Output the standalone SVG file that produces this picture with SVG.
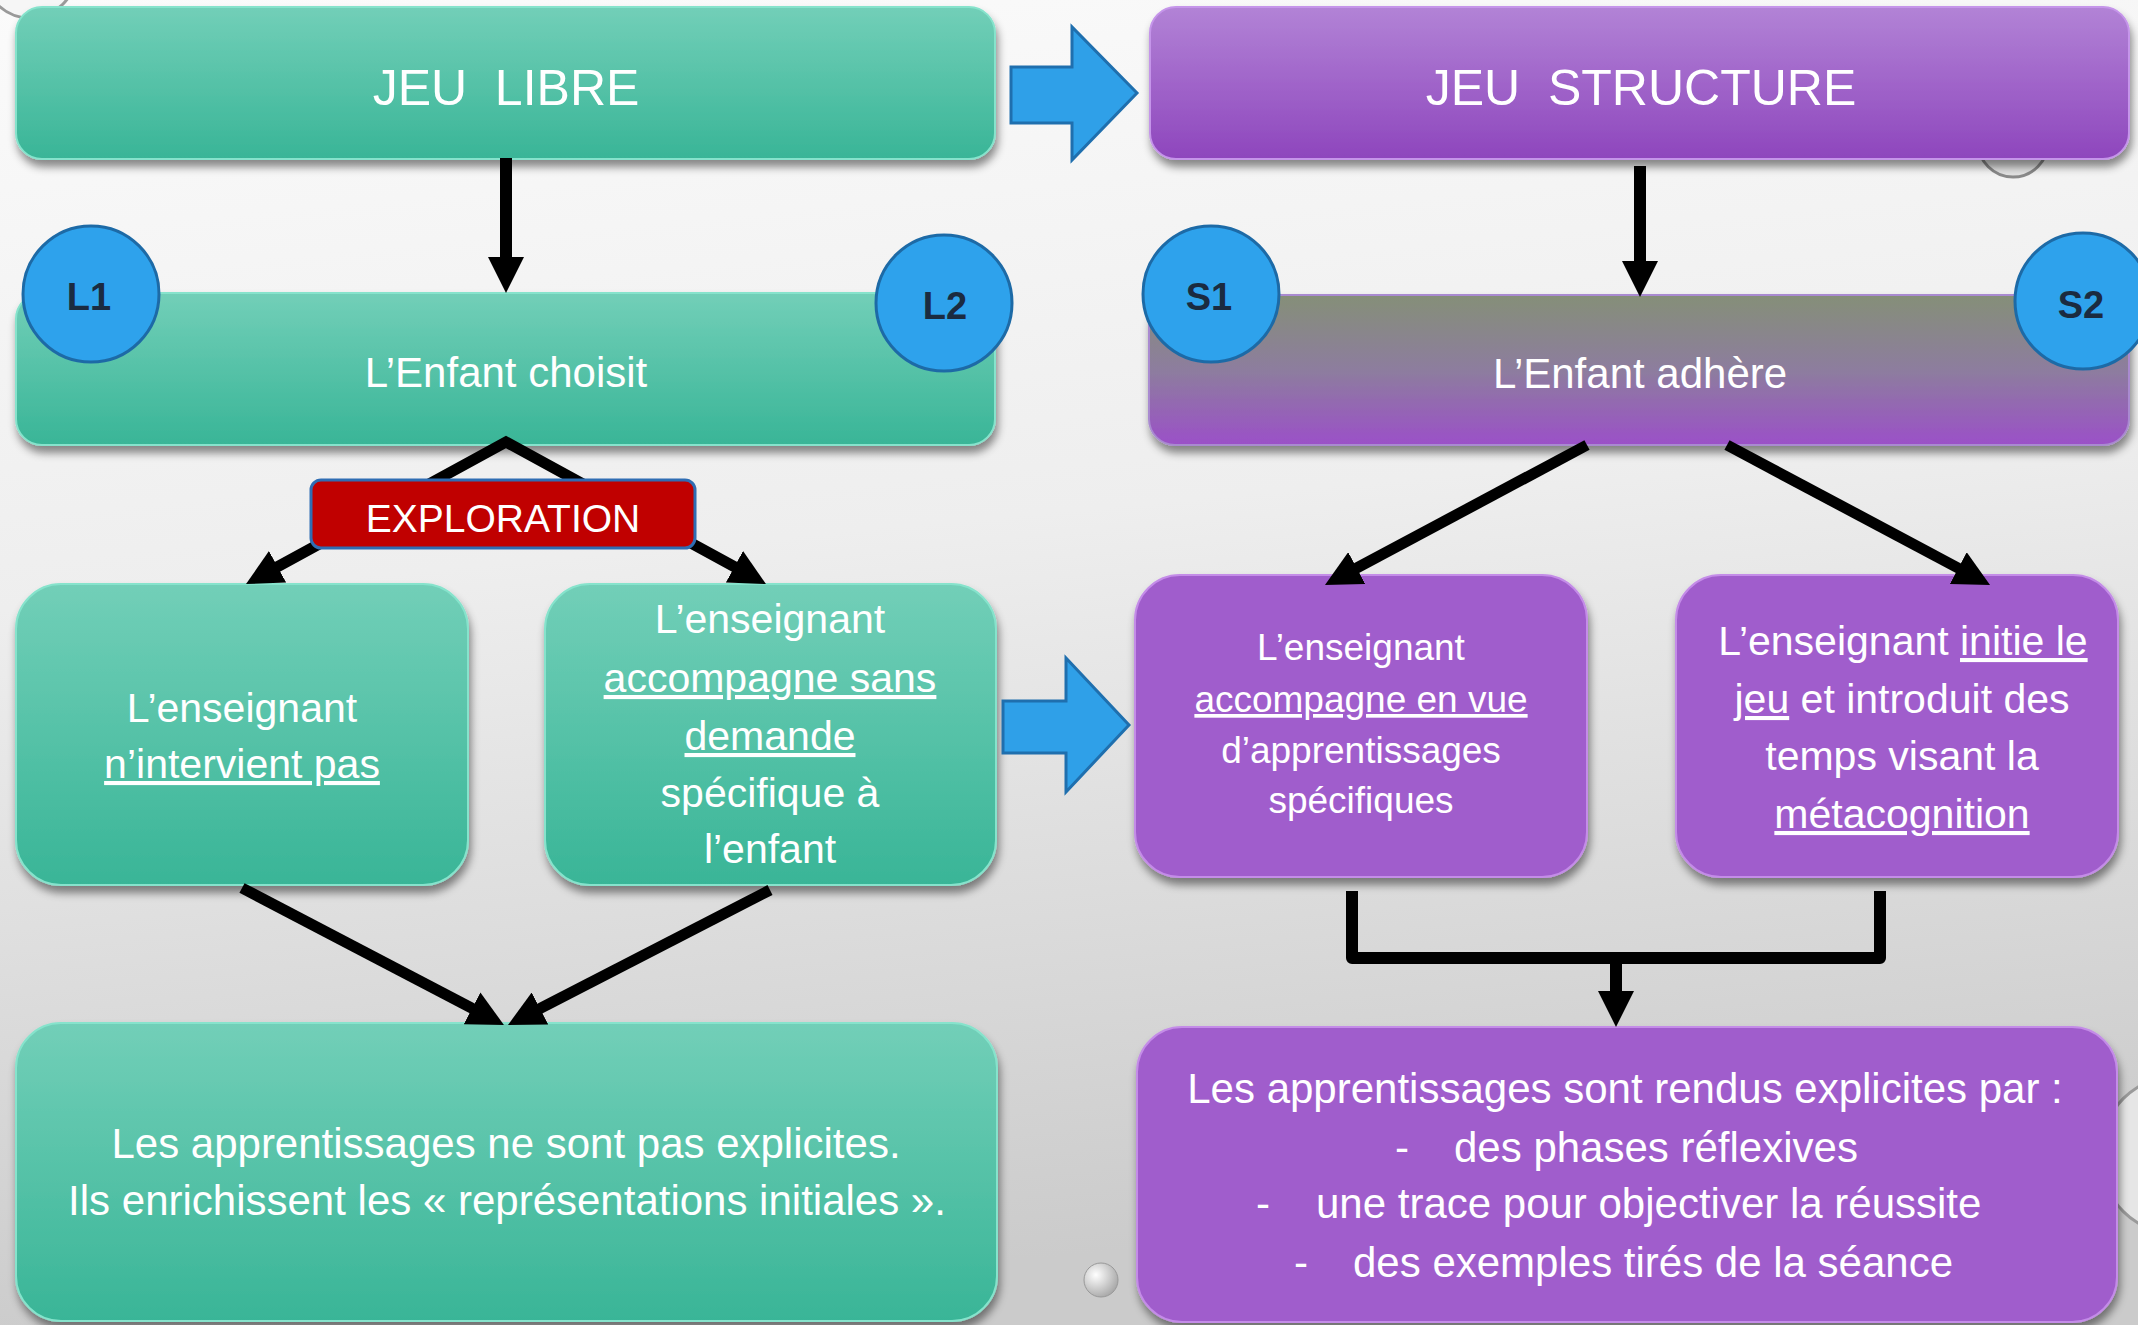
<svg xmlns="http://www.w3.org/2000/svg" width="2138" height="1325" viewBox="0 0 2138 1325">
<defs>
  <linearGradient id="bg" x1="0" y1="0" x2="0.15" y2="1">
    <stop offset="0" stop-color="#fbfbfb"/>
    <stop offset="0.45" stop-color="#eeeeee"/>
    <stop offset="1" stop-color="#cbcbcb"/>
  </linearGradient>
  <linearGradient id="teal" x1="0" y1="0" x2="0" y2="1">
    <stop offset="0" stop-color="#72cfb8"/>
    <stop offset="1" stop-color="#39b597"/>
  </linearGradient>
  <linearGradient id="violet" x1="0" y1="0" x2="0" y2="1">
    <stop offset="0" stop-color="#b283d6"/>
    <stop offset="1" stop-color="#8e46bd"/>
  </linearGradient>
  <linearGradient id="adhere" x1="0" y1="0" x2="0" y2="1">
    <stop offset="0" stop-color="#858f78"/>
    <stop offset="0.5" stop-color="#8d7d9e"/>
    <stop offset="1" stop-color="#9b50c8"/>
  </linearGradient>
  <radialGradient id="bubble" cx="0.35" cy="0.35" r="0.7">
    <stop offset="0" stop-color="#ffffff"/>
    <stop offset="1" stop-color="#a8a8a8"/>
  </radialGradient>
  <filter id="sh" x="-5%" y="-10%" width="110%" height="130%">
    <feDropShadow dx="2" dy="7" stdDeviation="4" flood-color="#000" flood-opacity="0.45"/>
  </filter>
  <marker id="ah" viewBox="0 0 36 36" refX="4" refY="18" markerWidth="36" markerHeight="36" markerUnits="userSpaceOnUse" orient="auto-start-reverse">
    <path d="M0,0 L36,18 L0,36 z" fill="#000"/>
  </marker>
  <style>
    .t { font-family: "Liberation Sans", Arial, sans-serif; fill: #ffffff; text-anchor: middle; }
    .tl { font-family: "Liberation Sans", Arial, sans-serif; fill: #ffffff; }
    .lab { font-family: "Liberation Sans", Arial, sans-serif; font-weight: bold; fill: #1b2b40; text-anchor: middle; font-size: 38px; }
    .tealbox { fill: url(#teal); stroke: #86e3cc; stroke-width: 2; filter: url(#sh); }
    .purplebox { fill: #a05dcc; stroke: #c48ce8; stroke-width: 2; filter: url(#sh); }
    .circ { fill: #2ea2ec; stroke: #1d6aa6; stroke-width: 3; }
    .conn { fill: none; stroke: #000; stroke-width: 11; }
    .block { fill: #2fa0e8; stroke: #1f6fae; stroke-width: 3; }
  </style>
</defs>

<rect x="0" y="0" width="2138" height="1325" fill="url(#bg)"/>
<!-- background bubbles -->
<circle cx="30" cy="-28" r="46" fill="#f6f6f6" stroke="#9a9a9a" stroke-width="3"/>
<circle cx="2013" cy="142" r="35" fill="#e2e2e2" stroke="#8a8a8a" stroke-width="3"/>
<circle cx="2180" cy="1155" r="80" fill="#e6e6e6" stroke="#9a9a9a" stroke-width="3"/>
<circle cx="1101" cy="1280" r="17" fill="url(#bubble)" stroke="#999" stroke-width="1"/>

<g id="jeu-libre">
  <rect class="tealbox" x="16" y="7" width="979" height="152" rx="26"/>
  <text class="t" x="506" y="105" font-size="50">JEU&#160; LIBRE</text>
</g>
<g id="jeu-structure">
  <rect x="1150" y="7" width="979" height="152" rx="26" fill="url(#violet)" stroke="#c595ea" stroke-width="2" filter="url(#sh)"/>
  <text class="t" x="1641" y="105" font-size="50">JEU&#160; STRUCTURE</text>
</g>
<g id="arrow-top">
  <path class="block" d="M1011,67 H1072 V27 L1137,93 L1072,160 V123 H1011 Z"/>
</g>
<g id="enfant-choisit">
  <rect class="tealbox" x="16" y="293" width="979" height="152" rx="26"/>
  <text class="t" x="506" y="387" font-size="42">L’Enfant choisit</text>
</g>
<g id="enfant-adhere">
  <rect x="1149" y="295" width="980" height="150" rx="26" fill="url(#adhere)" stroke="#a98ad0" stroke-width="2" filter="url(#sh)"/>
  <text class="t" x="1640" y="388" font-size="42">L’Enfant adhère</text>
</g>

<g id="n-intervient">
  <rect class="tealbox" x="16" y="584" width="452" height="301" rx="45"/>
  <text class="t" x="242" y="722" font-size="41">L’enseignant</text>
  <text class="t" x="242" y="778" font-size="41"><tspan text-decoration="underline">n’intervient pas</tspan></text>
</g>
<g id="accompagne-sans">
  <rect class="tealbox" x="545" y="584" width="451" height="301" rx="45"/>
  <text class="t" x="770" y="633" font-size="41">L’enseignant</text>
  <text class="t" x="770" y="692" font-size="41"><tspan text-decoration="underline">accompagne sans</tspan></text>
  <text class="t" x="770" y="750" font-size="41"><tspan text-decoration="underline">demande</tspan></text>
  <text class="t" x="770" y="807" font-size="41">spécifique à</text>
  <text class="t" x="770" y="863" font-size="41">l’enfant</text>
</g>
<g id="arrow-middle">
  <path class="block" d="M1003,701 H1066 V658 L1129,725 L1066,792 V753 H1003 Z"/>
</g>
<g id="accompagne-vue">
  <rect class="purplebox" x="1135" y="575" width="452" height="302" rx="45"/>
  <text class="t" x="1361" y="660" font-size="37">L’enseignant</text>
  <text class="t" x="1361" y="712" font-size="37"><tspan text-decoration="underline">accompagne en vue</tspan></text>
  <text class="t" x="1361" y="763" font-size="37">d’apprentissages</text>
  <text class="t" x="1361" y="813" font-size="37">spécifiques</text>
</g>
<g id="initie-jeu">
  <rect class="purplebox" x="1676" y="575" width="442" height="302" rx="45"/>
  <text class="t" x="1903" y="655" font-size="41">L’enseignant <tspan text-decoration="underline">initie le</tspan></text>
  <text class="t" x="1902" y="713" font-size="41"><tspan text-decoration="underline">jeu</tspan> et introduit des</text>
  <text class="t" x="1902" y="770" font-size="41">temps visant la</text>
  <text class="t" x="1902" y="828" font-size="41"><tspan text-decoration="underline">métacognition</tspan></text>
</g>

<g id="non-explicites">
  <rect class="tealbox" x="16" y="1023" width="981" height="298" rx="45"/>
  <text class="t" x="506" y="1158" font-size="42">Les apprentissages ne sont pas explicites.</text>
  <text class="t" x="507" y="1215" font-size="42">Ils enrichissent les « représentations initiales ».</text>
</g>
<g id="rendus-explicites">
  <rect class="purplebox" x="1137" y="1027" width="980" height="295" rx="45"/>
  <text class="t" x="1625" y="1103" font-size="42">Les apprentissages sont rendus explicites par :</text>
  <text class="tl" x="1395" y="1162" font-size="42">-</text>
  <text class="tl" x="1454" y="1162" font-size="42">des phases réflexives</text>
  <text class="tl" x="1256" y="1218" font-size="42">-</text>
  <text class="tl" x="1316" y="1218" font-size="42">une trace pour objectiver la réussite</text>
  <text class="tl" x="1294" y="1277" font-size="42">-</text>
  <text class="tl" x="1353" y="1277" font-size="42">des exemples tirés de la séance</text>
</g>

<g id="connectors">
  <line class="conn" style="stroke-width:12" x1="506" y1="158" x2="506" y2="261" marker-end="url(#ah)"/>
  <line class="conn" style="stroke-width:12" x1="1640" y1="166" x2="1640" y2="265" marker-end="url(#ah)"/>
  <path class="conn" d="M274.1,568.7 L506,442 L737.9,568.7" stroke-linejoin="miter" marker-start="url(#ah)" marker-end="url(#ah)"/>
  <line class="conn" x1="1587" y1="445" x2="1353.2" y2="569.9" marker-end="url(#ah)"/>
  <line class="conn" x1="1727" y1="445" x2="1961.8" y2="570" marker-end="url(#ah)"/>
  <line class="conn" x1="242" y1="888" x2="475.6" y2="1010.2" marker-end="url(#ah)"/>
  <line class="conn" x1="770" y1="890" x2="536.4" y2="1010.3" marker-end="url(#ah)"/>
  <path class="conn" style="stroke-width:12" d="M1352,891 V958 H1880 V891" stroke-linejoin="round"/>
  <line class="conn" style="stroke-width:12" x1="1616" y1="958" x2="1616" y2="995" marker-end="url(#ah)"/>
</g>

<g id="exploration">
  <rect x="311" y="480" width="384" height="68" rx="10" fill="#c00000" stroke="#2f6db3" stroke-width="3"/>
  <text class="t" x="503" y="532" font-size="39">EXPLORATION</text>
</g>

<g id="L1"><circle class="circ" cx="91" cy="294" r="68"/><text class="lab" x="89" y="310">L1</text></g>
<g id="L2"><circle class="circ" cx="944" cy="303" r="68"/><text class="lab" x="945" y="319">L2</text></g>
<g id="S1"><circle class="circ" cx="1211" cy="294" r="68"/><text class="lab" x="1209" y="310">S1</text></g>
<g id="S2"><circle class="circ" cx="2083" cy="301" r="68"/><text class="lab" x="2081" y="318">S2</text></g>
</svg>
